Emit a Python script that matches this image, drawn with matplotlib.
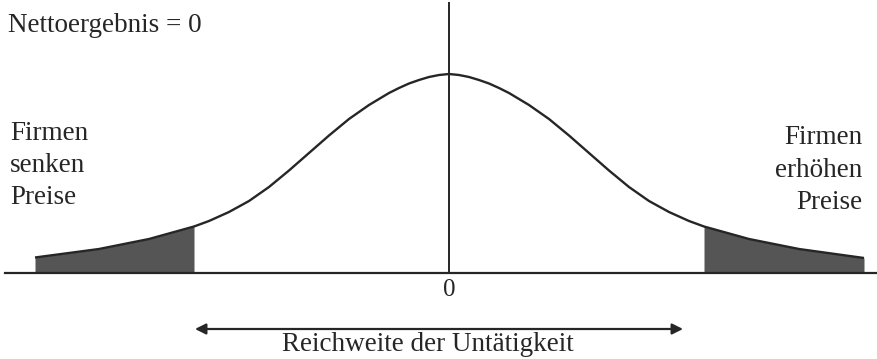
import matplotlib
matplotlib.use("Agg")
import matplotlib.pyplot as plt
import numpy as np

plt.rcParams['font.family'] = ['Liberation Serif', 'DejaVu Serif']

# price-change distribution (symmetric bell with heavy tails)
curve_x = [-4.14, -3.5, -3.0, -2.55, -2.4, -2.2, -2.0, -1.8, -1.6, -1.4, -1.2,
           -1.0, -0.8, -0.6, -0.5, -0.4, -0.3, -0.2, -0.1, 0.0, 0.1, 0.2, 0.3,
           0.4, 0.5, 0.6, 0.8, 1.0, 1.2, 1.4, 1.6, 1.8, 2.0, 2.2, 2.4, 2.55,
           3.0, 3.5, 4.15]
curve_y = [0.155, 0.24, 0.34, 0.465, 0.52, 0.61, 0.72, 0.86, 1.025, 1.20, 1.375,
           1.54, 1.68, 1.80, 1.85, 1.895, 1.93, 1.96, 1.98, 1.99, 1.98, 1.96, 1.93,
           1.895, 1.85, 1.80, 1.68, 1.54, 1.375, 1.20, 1.025, 0.86, 0.72, 0.61, 0.52, 0.465,
           0.34, 0.24, 0.15]

lower_cut = -2.55
upper_cut = 2.55
inaction_range = (-2.54, 2.34)

left_label = "Firmen\nsenken\nPreise"
right_label = "Firmen\nerhöhen\nPreise"
top_label = "Nettoergebnis = 0"
range_label = "Reichweite der Untätigkeit"
zero_label = "0"

ink = '#262626'
shade = '#555555'
fs = 19.5

x = np.array(curve_x)
y = np.array(curve_y)

fig = plt.figure(figsize=(8.77, 3.59), dpi=100)
ax = fig.add_axes([0, 0, 1, 1])
ax.set_xlim(-4.49, 4.28)
ax.set_ylim(-0.86, 2.73)
ax.axis('off')

# shaded tails
ax.fill_between(x, 0, y, where=x <= lower_cut, color=shade, lw=0)
ax.fill_between(x, 0, y, where=x >= upper_cut, color=shade, lw=0)

ax.plot(x, y, color=ink, lw=1.7, solid_capstyle='butt', solid_joinstyle='round')

# baseline and vertical axis
ax.plot([-4.44, 4.28], [0, 0], color=ink, lw=1.6)
ax.plot([0, 0], [0, 2.70], color=ink, lw=1.4)

ax.text(0, -0.17, zero_label, ha='center', va='center', fontsize=18, color=ink)

ax.annotate('', xy=(inaction_range[0], -0.56), xytext=(inaction_range[1], -0.56),
            arrowprops=dict(arrowstyle='<|-|>', color=ink, lw=1.6,
                            mutation_scale=16, shrinkA=0, shrinkB=0))
ax.text(-0.21, -0.78, range_label, ha='center', va='baseline', fontsize=fs, color=ink)

ax.text(-4.41, 2.41, top_label, ha='left', va='baseline', fontsize=fs, color=ink)
ax.text(-4.39, 1.52, left_label, ha='left', va='top', fontsize=fs, color=ink,
        linespacing=1.36)
ax.text(4.13, 1.48, right_label, ha='right', va='top', fontsize=fs, color=ink,
        linespacing=1.40)

fig.savefig('out.png', dpi=100, facecolor='white')
